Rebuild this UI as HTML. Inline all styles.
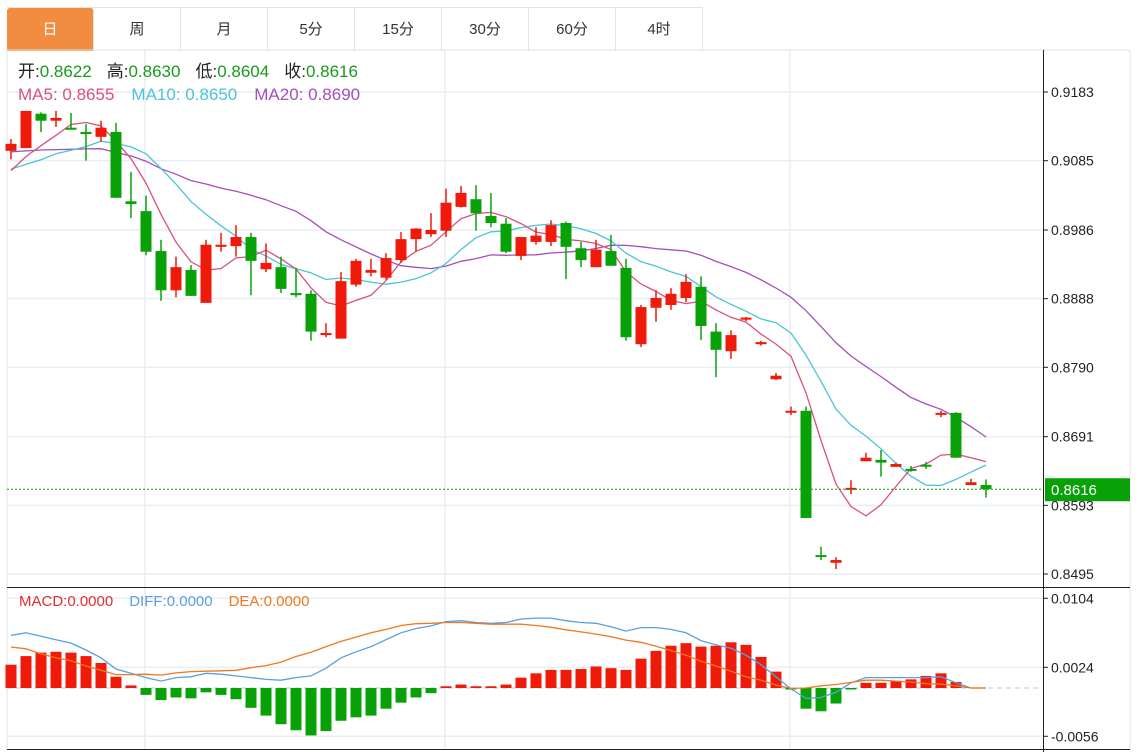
<!DOCTYPE html>
<html><head><meta charset="utf-8">
<style>
body{margin:0;background:#fff;width:1139px;height:752px;overflow:hidden;font-family:"Liberation Sans","Noto Sans CJK SC",sans-serif;}
#tabs{position:absolute;left:7px;top:7px;height:43px;display:flex;border-top:1px solid #e3e3e3;}
.tab{width:87px;height:43px;line-height:43px;text-align:center;font-size:15px;color:#333;border-right:1px solid #e3e3e3;box-sizing:border-box;}
.tab.active{background:#f28c40;color:#fff;border-radius:3px 3px 0 0;}
svg{position:absolute;left:0;top:0;}
</style></head><body>
<div id="tabs">
<div class="tab active">日</div>
<div class="tab">周</div>
<div class="tab">月</div>
<div class="tab">5分</div>
<div class="tab">15分</div>
<div class="tab">30分</div>
<div class="tab">60分</div>
<div class="tab">4时</div>
</div>
<svg id="chart" width="1139" height="752" font-family="Liberation Sans, Noto Sans CJK SC, sans-serif"></svg>
<script>
const opens=[.9099,.9103,.9152,.9142,.9132,.9126,.9119,.9126,.9027,.9013,.8956,.8900,.8929,.8882,.8962,.8963,.8976,.8930,.8933,.8896,.8895,.8836,.8831,.8908,.8925,.8918,.8943,.8973,.8980,.8985,.9019,.9030,.9006,.8995,.8949,.8969,.8969,.8996,.8960,.8933,.8956,.8932,.8823,.8875,.8879,.8889,.8905,.8841,.8813,.8858,.8823,.8773,.8726,.8728,.8522,.8511,.8616,.8656,.8658,.8648,.8645,.8651,.8724,.8725,.8622,.8622];
const highs=[.9116,.9156,.9154,.9156,.9153,.9137,.9142,.9139,.9069,.9035,.8972,.8948,.8936,.8972,.8982,.8993,.8982,.8967,.8948,.8932,.8900,.8853,.8926,.8945,.8945,.8953,.8983,.8989,.9010,.9045,.9049,.9050,.9039,.9003,.8976,.8990,.9000,.8998,.8969,.8972,.8979,.8945,.8879,.8900,.8903,.8923,.8920,.8853,.8843,.8862,.8828,.8782,.8734,.8734,.8534,.8519,.8629,.8668,.8672,.8654,.8649,.8655,.8728,.8726,.8631,.8630];
const lows=[.9087,.9103,.9126,.9133,.9130,.9085,.9112,.9032,.9003,.8950,.8885,.8890,.8892,.8882,.8955,.8948,.8893,.8926,.8896,.8890,.8828,.8833,.8831,.8905,.8920,.8915,.8939,.8956,.8976,.8976,.9018,.8985,.8990,.8953,.8943,.8965,.8963,.8916,.8933,.8933,.8935,.8828,.8819,.8855,.8872,.8883,.8829,.8776,.8802,.8856,.8821,.8772,.8722,.8575,.8515,.8502,.8609,.8656,.8634,.8648,.8641,.8645,.8719,.8661,.8622,.8604];
const closes=[.9109,.9156,.9142,.9146,.9130,.9123,.9132,.9032,.9023,.8955,.8900,.8933,.8892,.8965,.8965,.8976,.8942,.8939,.8902,.8893,.8841,.8839,.8913,.8942,.8929,.8946,.8973,.8988,.8986,.9025,.9039,.9010,.8996,.8955,.8976,.8978,.8993,.8962,.8943,.8958,.8935,.8833,.8876,.8889,.8895,.8912,.8849,.8815,.8836,.8861,.8826,.8778,.8728,.8575,.8521,.8515,.8618,.8661,.8654,.8652,.8644,.8649,.8725,.8661,.8626,.8616];
const prevCloses=[.9130,.9118,.9135,.9122,.9110,.9128,.9140,.9120,.9105,.9115,.9090,.9075,.9060,.9082,.9070,.9055,.9065,.9072,.9053];
const macdHist=[.0027,.0037,.0041,.0042,.0041,.0037,.0029,.0013,.0003,-.0008,-.0014,-.0011,-.0012,-.0005,-.0008,-.0013,-.0023,-.0032,-.0042,-.0049,-.0055,-.0050,-.0038,-.0034,-.0032,-.0024,-.0017,-.0011,-.0006,.0002,.0004,.0002,.0002,.0004,.0012,.0017,.0021,.0021,.0022,.0025,.0023,.0021,.0034,.0043,.0049,.0052,.0048,.0049,.0053,.0050,.0036,.0019,-.0001,-.0024,-.0027,-.0018,-.0001,.0006,.0006,.0008,.0010,.0014,.0017,.0007,.0000,.0000];
const diffLine=[.0061,.0064,.0060,.0056,.0052,.0044,.0035,.0022,.0017,.0012,.0008,.0012,.0013,.0017,.0016,.0014,.0012,.0010,.0009,.0012,.0014,.0023,.0035,.0042,.0048,.0056,.0064,.0069,.0072,.0077,.0078,.0076,.0075,.0076,.0080,.0081,.0081,.0078,.0076,.0075,.0071,.0066,.0070,.0070,.0068,.0064,.0055,.0050,.0046,.0038,.0027,.0013,-.0001,-.0012,-.0011,-.0005,.0006,.0012,.0012,.0012,.0012,.0012,.0013,.0006,.0000,.0000];
const priceTicks=[0.9183,0.9085,0.8986,0.8888,0.8790,0.8691,0.8593,0.8495];
const macdTicks=[0.0104,0.0024,-0.0056];
const lastPrice=0.8616;

const S=document.getElementById('chart');
const NS='http://www.w3.org/2000/svg';
function mk(tag,attrs,parent){const e=document.createElementNS(NS,tag);for(const k in attrs)e.setAttribute(k,attrs[k]);(parent||S).appendChild(e);return e;}
const py=p=>92+(0.9183-p)*7006;
const my=v=>688-v*8625;
const cx=i=>11+15*i;
const RED='#f01a0a',GREEN='#08a208';

const grid=mk('g',{});


priceTicks.forEach(t=>mk('line',{x1:7,x2:1043,y1:py(t),y2:py(t),stroke:'#e8eef3','stroke-width':1.5},grid));
macdTicks.forEach(t=>mk('line',{x1:7,x2:1043,y1:my(t),y2:my(t),stroke:'#e8eef3','stroke-width':1.5},grid));
[145,445,790].forEach(x=>mk('line',{x1:x,x2:x,y1:50,y2:749,stroke:'#e8eef3','stroke-width':1.5},grid));
mk('line',{x1:7,x2:1130,y1:50,y2:50,stroke:'#e3e3e3'});
mk('line',{x1:7,x2:7,y1:50,y2:749,stroke:'#e3e3e3'});
mk('line',{x1:1130,x2:1130,y1:50,y2:749,stroke:'#e3e3e3'});
mk('line',{x1:1043.5,x2:1043.5,y1:50,y2:752,stroke:'#222'});
mk('line',{x1:7,x2:1130,y1:587.5,y2:587.5,stroke:'#222'});
mk('line',{x1:7,x2:1130,y1:749.5,y2:749.5,stroke:'#222'});

const ax=mk('g',{'font-size':14,fill:'#222'});


priceTicks.forEach(t=>{mk('line',{x1:1043,x2:1048,y1:py(t),y2:py(t),stroke:'#222'},ax);const tx=mk('text',{x:1051,y:py(t)+5},ax);tx.textContent=t.toFixed(4);});
const ax2=mk('g',{'font-size':14,fill:'#222'});


macdTicks.forEach(t=>{mk('line',{x1:1043,x2:1048,y1:my(t),y2:my(t),stroke:'#222'},ax2);const tx=mk('text',{x:1051,y:my(t)+5},ax2);tx.textContent=t.toFixed(4);});

const all=prevCloses.concat(closes);
function ma(n){return closes.map((c,i)=>{const j=i+prevCloses.length;const s=all.slice(Math.max(0,j-n+1),j+1);return s.reduce((a,b)=>a+b,0)/s.length;});}
[[20,'#a54fbb','ma20-line'],[10,'#4cc3d6','ma10-line'],[5,'#d9507f','ma5-line']].forEach(([n,col,name])=>{
 const v=ma(n);const pl=mk('polyline',{points:v.map((p,i)=>cx(i)+','+py(p).toFixed(1)).join(' '),fill:'none',stroke:col,'stroke-width':1.3});
 
 
});

const cg=mk('g',{});


closes.forEach((c,i)=>{
 const o=opens[i],up=c>=o,col=up?RED:GREEN;
 const g=mk('g',{},cg);
 
 
 mk('line',{x1:cx(i),x2:cx(i),y1:py(highs[i]),y2:py(lows[i]),stroke:col,'stroke-width':1.5},g);
 const t=py(Math.max(o,c)),b=py(Math.min(o,c));
 mk('rect',{x:cx(i)-5.5,y:t,width:11,height:Math.max(2,b-t),fill:col},g);
});

mk('line',{x1:7,x2:1043,y1:py(lastPrice),y2:py(lastPrice),stroke:GREEN,'stroke-width':1,'stroke-dasharray':'2,2'});
const lb=mk('g',{});


mk('rect',{x:1045,y:py(lastPrice)-11,width:85,height:23,fill:GREEN},lb);
const lt=mk('text',{x:1051,y:py(lastPrice)+6,fill:'#fff','font-size':15},lb);lt.textContent=lastPrice.toFixed(4);

mk('line',{x1:7,x2:1043,y1:my(0),y2:my(0),stroke:'#a8d0ea','stroke-dasharray':'5,4'});
const mg=mk('g',{});


macdHist.forEach((v,i)=>{
 const y0=my(0),y1=my(v);
 const r=mk('rect',{x:cx(i)-5.5,y:Math.min(y0,y1),width:11,height:Math.max(Math.abs(y1-y0),v===0?0:1.5),fill:v>=0?RED:GREEN},mg);
 
 
});
const dea=diffLine.map((d,i)=>d-macdHist[i]/2);
const dl=mk('polyline',{points:diffLine.map((v,i)=>cx(i)+','+my(v).toFixed(1)).join(' '),fill:'none',stroke:'#5a9fe0','stroke-width':1.3});


const el=mk('polyline',{points:dea.map((v,i)=>cx(i)+','+my(v).toFixed(1)).join(' '),fill:'none',stroke:'#f07820','stroke-width':1.3});


</script>
<svg width="1139" height="752" style="pointer-events:none" font-family="Liberation Sans, Noto Sans CJK SC, sans-serif" font-size="17">
<text x="18" y="77"><tspan fill="#222">开:</tspan><tspan fill="#1a9a1a">0.8622</tspan><tspan fill="#222" dx="15">高:</tspan><tspan fill="#1a9a1a">0.8630</tspan><tspan fill="#222" dx="15">低:</tspan><tspan fill="#1a9a1a">0.8604</tspan><tspan fill="#222" dx="15">收:</tspan><tspan fill="#1a9a1a">0.8616</tspan></text>
<text x="18" y="100"><tspan fill="#d9507f">MA5: 0.8655</tspan><tspan fill="#4cc3d6" dx="17">MA10: 0.8650</tspan><tspan fill="#a54fbb" dx="17">MA20: 0.8690</tspan></text>
<text x="19" y="606" font-size="15"><tspan fill="#e03030">MACD:0.0000</tspan><tspan fill="#5a9fe0" dx="16">DIFF:0.0000</tspan><tspan fill="#f07820" dx="16">DEA:0.0000</tspan></text>
</svg>
</body></html>
